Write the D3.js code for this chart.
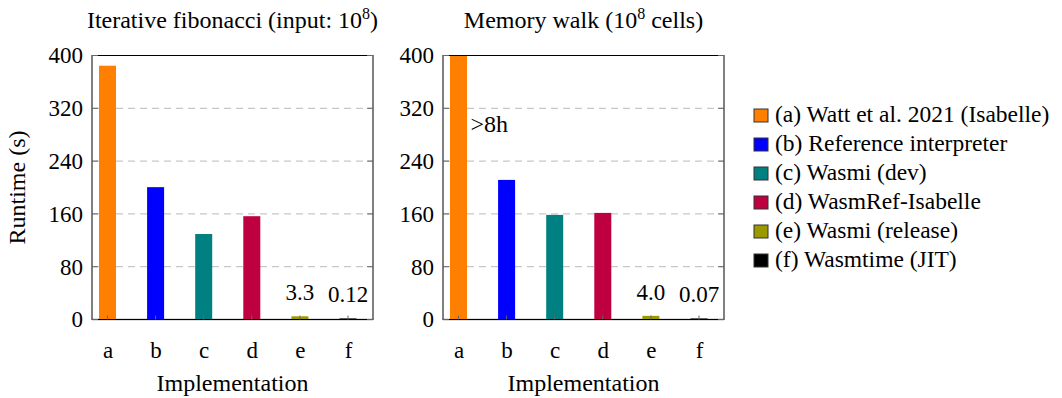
<!DOCTYPE html>
<html>
<head>
<meta charset="utf-8">
<script src="https://cdn.jsdelivr.net/npm/d3@7"></script>
<style>
  body { margin: 0; background: #fff; }
  svg text { font-family: "Liberation Serif", "DejaVu Serif", serif; fill: #000; }
  .grid line { stroke: #bbb; stroke-dasharray: 7,5; }
</style>
</head>
<body>
<div id="chart"></div>
<script>
// data
const categories = ['a', 'b', 'c', 'd', 'e', 'f'];
const legendLabels = [
  '(a) Watt et al. 2021 (Isabelle)',
  '(b) Reference interpreter',
  '(c) Wasmi (dev)',
  '(d) WasmRef-Isabelle',
  '(e) Wasmi (release)',
  '(f) Wasmtime (JIT)'
];
const barColors = ['#ff8000', '#0000ff', '#008080', '#bf0040', '#999900', '#000000'];
const yTicks = [0, 80, 160, 240, 320, 400];

// runtime (s)
const fibValues = [383, 199, 128, 155, 3.3, 0.12];
const fibLabels = ['', '', '', '', '3.3', '0.12'];
// (a) took >8h, clipped at the top
const memValues = [28800, 210, 157, 160, 4.0, 0.07];
const memLabels = ['', '', '', '', '4.0', '0.07'];

const width = 1062, height = 398;
const panelTop = 55.5, panelH = 264, panelW = 281;
const barW = 15;
const fs = '23px';

const svg = d3.select('#chart').append('svg')
  .attr('width', width).attr('height', height);

const y = d3.scaleLinear().domain([0, 400]).range([panelH, 0]);
const x = d3.scalePoint().domain(categories).range([15.5, 256]);

function drawPanel(left, title, values, labels, showYLabel, note) {
  const g = svg.append('g').attr('transform', `translate(${left},${panelTop})`);
  const clipId = 'clip' + left;
  g.append('clipPath').attr('id', clipId)
    .append('rect').attr('width', panelW).attr('height', panelH);

  // grid
  g.append('g').attr('class', 'grid')
    .selectAll('line').data(yTicks.filter(d => d > 0 && d < 400)).enter()
    .append('line')
    .attr('x1', 0).attr('x2', panelW)
    .attr('y1', d => y(d)).attr('y2', d => y(d));

  // zero line
  g.append('line').attr('x1', 0).attr('x2', panelW)
    .attr('y1', y(0)).attr('y2', y(0))
    .attr('stroke', '#777').attr('stroke-width', 1.6);

  // bars
  g.append('g').attr('clip-path', `url(#${clipId})`)
    .selectAll('rect').data(values).enter()
    .append('rect')
    .attr('x', (d, i) => x(categories[i]) - barW / 2)
    .attr('y', d => y(Math.min(d, 420)))
    .attr('width', barW)
    .attr('height', d => y(0) - y(Math.min(d, 420)))
    .attr('fill', (d, i) => barColors[i])
    .attr('stroke', (d, i) => barColors[i])
    .attr('stroke-width', 2);

  // value labels
  g.selectAll('.val').data(labels).enter()
    .append('text').attr('class', 'val')
    .attr('x', (d, i) => x(categories[i]))
    .attr('y', (d, i) => y(values[i]) - 17)
    .attr('text-anchor', 'middle')
    .style('font-size', fs)
    .text(d => d);

  if (note) {
    g.append('text')
      .attr('x', x('a') + 12).attr('y', y(284))
      .style('font-size', '24px')
      .text(note);
  }

  // frame
  g.append('rect').attr('width', panelW).attr('height', panelH)
    .attr('fill', 'none').attr('stroke', '#000').attr('stroke-width', 1);

  // y axis
  const yAxis = d3.axisLeft(y).tickValues(yTicks).tickSize(0).tickPadding(9);
  const ya = g.append('g').call(yAxis);
  ya.select('.domain').remove();
  ya.selectAll('text').style('font-size', fs);
  // tick marks inside, both sides
  g.append('g').selectAll('line').data(yTicks).enter().append('line')
    .attr('x1', 0).attr('x2', 6).attr('y1', d => y(d)).attr('y2', d => y(d))
    .attr('stroke', '#666');
  g.append('g').selectAll('line').data(yTicks).enter().append('line')
    .attr('x1', panelW - 6).attr('x2', panelW).attr('y1', d => y(d)).attr('y2', d => y(d))
    .attr('stroke', '#666');

  // x axis
  const xAxis = d3.axisBottom(x).tickSize(0).tickPadding(22);
  const xa = g.append('g').attr('transform', `translate(0,${panelH})`).call(xAxis);
  xa.select('.domain').remove();
  xa.selectAll('text').style('font-size', fs);
  g.append('g').selectAll('line').data(categories).enter().append('line')
    .attr('x1', d => x(d)).attr('x2', d => x(d))
    .attr('y1', panelH - 4).attr('y2', panelH)
    .attr('stroke', '#666');

  g.append('text')
    .attr('x', panelW / 2).attr('y', panelH + 71)
    .attr('text-anchor', 'middle')
    .style('font-size', '24px')
    .text('Implementation');

  // title with superscript
  const t = g.append('text')
    .attr('x', panelW / 2).attr('y', -28)
    .attr('text-anchor', 'middle')
    .style('font-size', '24px');
  t.append('tspan').text(title[0]);
  t.append('tspan').text('8').attr('dy', -9).style('font-size', '16px');
  t.append('tspan').text(title[1]).attr('dy', 9);

  if (showYLabel) {
    g.append('text')
      .attr('transform', `translate(${-67},${panelH / 2}) rotate(-90)`)
      .attr('text-anchor', 'middle')
      .style('font-size', '24px')
      .text('Runtime (s)');
  }
}

drawPanel(92, ['Iterative fibonacci (input: 10', ')'], fibValues, fibLabels, true, null);
drawPanel(443, ['Memory walk (10', ' cells)'], memValues, memLabels, false, '>8h');

// legend
const legend = svg.append('g').attr('transform', 'translate(754,109)');
const rows = legend.selectAll('g').data(legendLabels).enter().append('g')
  .attr('transform', (d, i) => `translate(0,${i * 29})`);
rows.append('rect')
  .attr('x', 0).attr('y', 0).attr('width', 14).attr('height', 13)
  .attr('fill', (d, i) => barColors[i])
  .attr('stroke', '#333').attr('stroke-width', 1);
rows.append('text')
  .attr('x', 21).attr('y', 13)
  .style('font-size', '23.5px')
  .text(d => d);
</script>
</body>
</html>
